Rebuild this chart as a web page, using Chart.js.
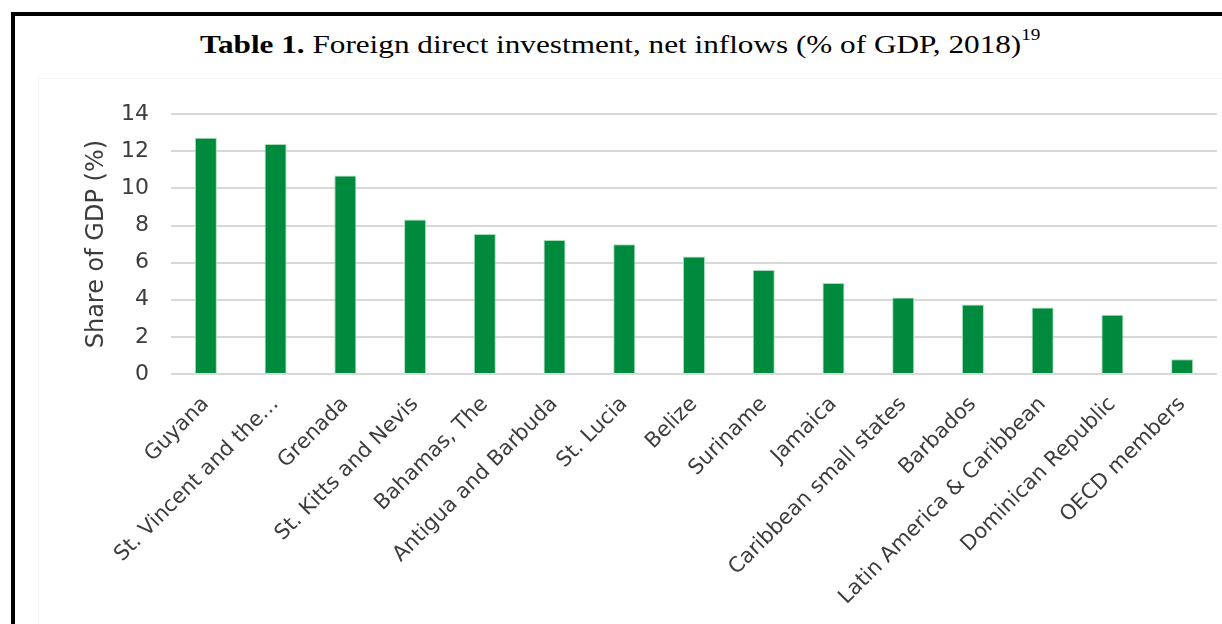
<!DOCTYPE html>
<html>
<head>
<meta charset="utf-8">
<script src="https://cdn.jsdelivr.net/npm/chart.js@4.4.1/dist/chart.umd.min.js"></script>
<style>
  body { margin: 0; background: #fff; width: 1222px; height: 624px; overflow: hidden; position: relative; }
  #frame { position: absolute; left: 11px; top: 12px; width: 1300px; height: 700px;
           border-top: 4px solid #000; border-left: 4px solid #000; }
  #title { position: absolute; left: 200px; top: 30px; font-family: "Liberation Serif", serif;
           font-size: 26px; line-height: 1; color: #000; white-space: nowrap;
           transform: scaleX(1.2); transform-origin: left top; }
  #title sup { font-size: 16px; position: relative; top: -3px; }
  #box { position: absolute; left: 38px; top: 78px; width: 1184px; height: 546px;
         border-top: 1px solid #f6f6f6; border-left: 1px solid #f6f6f6; box-sizing: border-box; }
  #chart { display: block; }
</style>
</head>
<body>
<div id="frame"></div>
<div id="title"><b>Table 1.</b> Foreign direct investment, net inflows (% of GDP, 2018)<sup>19</sup></div>
<div id="box"><canvas id="chart" width="1183" height="545"></canvas></div>
<script>
const countries = [
    'Guyana', 'St. Vincent and the\u2026', 'Grenada', 'St. Kitts and Nevis', 'Bahamas, The',
    'Antigua and Barbuda', 'St. Lucia', 'Belize', 'Suriname', 'Jamaica',
    'Caribbean small states', 'Barbados', 'Latin America & Caribbean', 'Dominican Republic', 'OECD members'
];
const fdiShare = [12.73, 12.4, 10.7, 8.32, 7.55, 7.22, 6.99, 6.33, 5.6, 4.9, 4.12, 3.74, 3.58, 3.19, 0.79];
const yTicks = [0, 2, 4, 6, 8, 10, 12, 14];

const labelColor = '#3c3c3c';
const ctx = document.getElementById('chart').getContext('2d');
const fdiChart = new Chart(ctx, {
    type: 'bar',
    data: {
        labels: countries,
        datasets: [{
            label: 'Share of GDP (%)',
            data: fdiShare,
            backgroundColor: '#008a3e',
            borderColor: '#a8dcb8',
            borderWidth: 1,
            barPercentage: 0.316,
            categoryPercentage: 1
        }]
    },
    options: {
        responsive: false,
        animation: false,
        layout: {
            padding: { top: 34, right: 5, left: 43, bottom: 0 }
        },
        plugins: {
            legend: { display: false },
            tooltip: { enabled: false }
        },
        scales: {
            x: {
                grid: { display: false },
                border: { display: false },
                ticks: {
                    color: labelColor,
                    font: { family: 'DejaVu Sans', size: 21 },
                    minRotation: 45,
                    maxRotation: 45,
                    autoSkip: false,
                    padding: 10
                },
                afterFit: (axis) => { axis.height = 250; }
            },
            y: {
                min: 0,
                max: 14,
                afterBuildTicks: (axis) => { axis.ticks = yTicks.map(v => ({ value: v })); },
                grid: { color: '#d8d8d8', lineWidth: 2, drawTicks: false },
                border: { display: false },
                ticks: {
                    color: labelColor,
                    font: { family: 'DejaVu Sans', size: 22 },
                    padding: 22
                },
                title: {
                    display: true,
                    text: 'Share of GDP (%)',
                    color: labelColor,
                    font: { family: 'DejaVu Sans', size: 24 },
                    padding: 0
                },
                afterFit: (axis) => { axis.width = 89; }
            }
        }
    }
});
</script>
</body>
</html>
